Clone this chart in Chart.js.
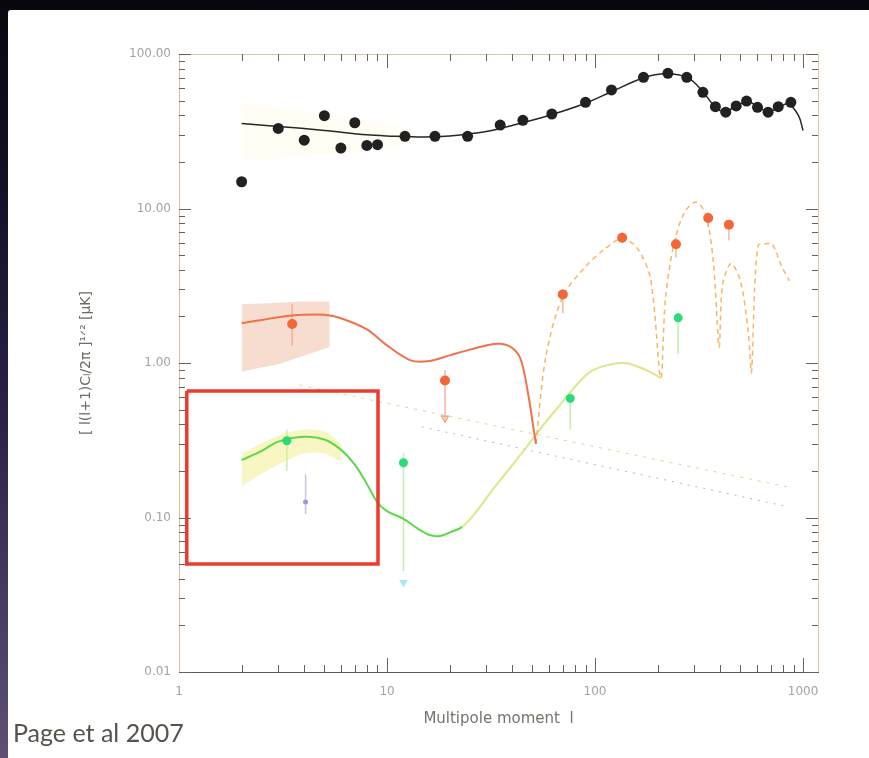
<!DOCTYPE html>
<html>
<head>
<meta charset="utf-8">
<script src="https://cdn.jsdelivr.net/npm/chart.js@4.4.1/dist/chart.umd.min.js"></script>
<style>
  html, body { margin: 0; padding: 0; }
  body {
    width: 869px; height: 758px; overflow: hidden; position: relative;
    background: linear-gradient(to bottom, #09070e 0%, #141028 25%, #2b2147 55%, #5f5073 100%);
  }
  #panel { position: absolute; left: 8px; top: 10px; right: 0; bottom: 0; background: #fff; border-top-left-radius: 3px; }
  #cv { position: absolute; left: 0; top: 0; }
  #credit { position: absolute; left: 13px; top: 717px; font: 25px Lato, "Open Sans", sans-serif; color: #58524c; }
</style>
</head>
<body>
<div id="panel"></div>
<canvas id="cv" width="869" height="758"></canvas>
<div id="credit">Page et al 2007</div>
<script>
// axis ticks
const xTicks = [1, 10, 100, 1000];
const yTicks = [0.01, 0.1, 1, 10, 100];

// TT band powers (black dots) and model
const ttL = [2, 3, 4, 5, 6, 7, 8, 9, 12.2, 17, 24.4, 35, 45, 62, 90, 120, 171, 224, 276, 330, 379, 425, 477, 535, 604, 679, 760, 874];
const ttVal = [14.9, 33, 27.7, 39.9, 24.6, 35.9, 25.6, 25.9, 29.3, 29.3, 29.3, 34.7, 37.2, 40.9, 48.7, 58.5, 70.7, 75, 70.7, 56.5, 45.6, 42, 46.1, 49.6, 45.2, 42, 45.6, 48.7];
const ttModelL = [2, 3, 5, 8, 10, 15, 20, 30, 40, 60, 90, 120, 170, 220, 280, 330, 380, 420, 480, 540, 600, 680, 760, 850, 950, 1000];
const ttModelVal = [35.5, 34, 32, 30, 29.5, 29, 29.5, 31.5, 34.5, 40, 48, 57, 70, 74.5, 70, 57, 45, 42.5, 46, 49.5, 46, 42, 45, 47.5, 40, 32];
const ttBandL = [2, 3, 5, 8, 10, 13];
const ttBandHi = [48, 45, 41, 37, 35, 33];
const ttBandLo = [20, 21, 22, 24, 25, 26];

// EE / TE (orange)
const eeL = [3.5, 19, 70, 135, 245, 350, 440];
const eeVal = [1.79, 0.77, 2.78, 6.47, 5.87, 8.68, 7.86];
const eeLo = [1.3, 0.43, 2.1, 6.0, 4.8, 7.6, 6.2];
const eeHi = [2.4, 0.9, 3.0, 7.0, 6.5, 9.5, 8.3];
const eeModelL = [2, 2.5, 3, 4, 5, 6, 8, 10, 13, 16, 20, 25, 30, 35, 40, 44, 48, 50, 52];
const eeModelVal = [1.81, 1.9, 1.98, 2.05, 2.05, 1.95, 1.65, 1.3, 1.04, 1.03, 1.12, 1.22, 1.3, 1.33, 1.25, 1.05, 0.6, 0.42, 0.3];
const eeBandL = [2, 3, 4, 5.3];
const eeBandHi = [2.4, 2.45, 2.5, 2.5];
const eeBandLo = [0.88, 0.98, 1.12, 1.27];
const teModelL = [52, 58, 70, 90, 110, 135, 160, 185, 207, 218, 240, 270, 306, 340, 370, 395, 410, 450, 500, 545, 565, 585, 610, 650, 710, 790, 860];
const teModelVal = [0.3, 1.1, 2.7, 4.2, 5.4, 6.4, 5.5, 3.5, 0.8, 2.6, 6.0, 9.5, 11.0, 9.2, 4.6, 1.27, 3.2, 4.4, 3.4, 1.6, 0.87, 3.0, 5.8, 5.9, 5.9, 4.2, 3.4];
const eeLimitL = [19];
const eeLimitVal = [0.44];

// green points and model
const grL = [3.3, 12, 76, 251];
const grVal = [0.314, 0.226, 0.59, 1.96];
const grLo = [0.2, 0.045, 0.37, 1.15];
const grHi = [0.37, 0.26, 0.65, 2.1];
const grModelL = [2, 2.5, 3, 4, 5, 6, 7, 8, 9, 10, 12, 14, 16, 18, 20, 23, 27, 32, 38, 47, 55, 65, 80, 95, 115, 138, 160, 185, 207];
const grModelVal = [0.235, 0.27, 0.31, 0.333, 0.32, 0.275, 0.22, 0.165, 0.125, 0.11, 0.098, 0.085, 0.077, 0.076, 0.08, 0.087, 0.11, 0.15, 0.2, 0.287, 0.38, 0.5, 0.7, 0.88, 0.97, 1.0, 0.95, 0.87, 0.8];
const grBandL = [2, 3, 4, 5, 6];
const grBandHi = [0.26, 0.34, 0.37, 0.36, 0.3];
const grBandLo = [0.16, 0.22, 0.26, 0.26, 0.23];

// low-l extras
const bbL = [4.06];
const bbVal = [0.126];
const bbLo = [0.105];
const bbHi = [0.19];
const cyL = [12];
const cyVal = [0.038];

// foreground lines
const fg1L = [3.8, 857];
const fg1Val = [0.72, 0.157];
const fg2L = [14.7, 857];
const fg2Val = [0.386, 0.117];

// highlighted box
const boxL = [1.09, 9.05, 9.05, 1.09, 1.09];
const boxVal = [0.66, 0.66, 0.05, 0.05, 0.66];

const pts = (xs, ys) => xs.map((x, i) => ({ x: x, y: ys[i] }));

const errorBars = {
  id: 'errorBars',
  beforeDatasetsDraw(chart) {
    const { ctx, scales: { x, y } } = chart;
    chart.data.datasets.forEach(ds => {
      if (!ds.errLo) return;
      ctx.save();
      ctx.strokeStyle = ds.errColor;
      ctx.lineWidth = 1.5;
      ds.data.forEach((p, i) => {
        const px = x.getPixelForValue(p.x);
        ctx.beginPath();
        ctx.moveTo(px, y.getPixelForValue(ds.errLo[i]));
        ctx.lineTo(px, y.getPixelForValue(ds.errHi[i]));
        ctx.stroke();
      });
      ctx.restore();
    });
  }
};

// inward ticks on all four sides, plus top/right frame
const frameTicks = {
  id: 'frameTicks',
  afterDraw(chart) {
    const { ctx, chartArea: a, scales: { x, y } } = chart;
    ctx.save();
    ctx.strokeStyle = '#d8c9a8';
    ctx.lineWidth = 1;
    ctx.beginPath();
    ctx.moveTo(a.left, a.top + 0.5); ctx.lineTo(a.right + 0.5, a.top + 0.5); ctx.lineTo(a.right + 0.5, a.bottom);
    ctx.stroke();
    ctx.strokeStyle = '#6b6256';
    for (let e = 0; e < 4; e++) {
      for (let k = 1; k < 10; k++) {
        const v = k * Math.pow(10, e);
        if (v <= 1 || v > x.max) continue;
        const px = Math.round(x.getPixelForValue(v)) + 0.5;
        const len = k === 1 ? 14 : 7;
        ctx.beginPath();
        ctx.moveTo(px, a.bottom); ctx.lineTo(px, a.bottom - len);
        ctx.moveTo(px, a.top); ctx.lineTo(px, a.top + len);
        ctx.stroke();
      }
    }
    for (let e = -2; e < 3; e++) {
      for (let k = 1; k < 10; k++) {
        const v = k * Math.pow(10, e);
        if (v > y.max * 1.0001) continue;
        const py = Math.round(y.getPixelForValue(v)) + 0.5;
        const len = k === 1 ? 12 : 6;
        ctx.beginPath();
        ctx.moveTo(a.left, py); ctx.lineTo(a.left + len, py);
        ctx.moveTo(a.right, py); ctx.lineTo(a.right - len, py);
        ctx.stroke();
      }
    }
    ctx.restore();
  }
};

const tickFont = { family: 'DejaVu Sans', size: 12 };

new Chart(document.getElementById('cv'), {
  type: 'scatter',
  data: {
    datasets: [
      { data: pts(ttL, ttVal), pointRadius: 5.5, pointBackgroundColor: '#232020', pointBorderWidth: 0 },
      { data: pts(eeL, eeVal), pointRadius: 5, pointBackgroundColor: '#f2663a', pointBorderWidth: 0,
        errLo: eeLo, errHi: eeHi, errColor: 'rgba(240,120,80,0.55)' },
      { data: pts(grL, grVal), pointRadius: 4.5, pointBackgroundColor: '#28dc78', pointBorderWidth: 0,
        errLo: grLo, errHi: grHi, errColor: 'rgba(150,220,110,0.55)' },
      { data: pts(bbL, bbVal), pointRadius: 2.5, pointBackgroundColor: '#9b9bd8', pointBorderWidth: 0,
        errLo: bbLo, errHi: bbHi, errColor: 'rgba(160,160,220,0.6)' },
      { data: pts(cyL, cyVal), pointRadius: 5, pointStyle: 'triangle', rotation: 180,
        pointBackgroundColor: '#a9e6f6', pointBorderWidth: 0 },
      { data: pts(eeLimitL, eeLimitVal), pointRadius: 4, pointStyle: 'triangle', rotation: 180,
        pointBackgroundColor: 'rgba(0,0,0,0)', pointBorderColor: 'rgba(240,130,80,0.8)', pointBorderWidth: 1.2 },
      { data: pts(boxL, boxVal), showLine: true, pointRadius: 0, borderColor: '#ec3b2b', borderWidth: 3.5 },
      { data: pts(ttModelL, ttModelVal), showLine: true, pointRadius: 0, borderColor: '#2a2622', borderWidth: 1.5, tension: 0.35 },
      { data: pts(eeModelL, eeModelVal), showLine: true, pointRadius: 0, borderColor: '#f0714a', borderWidth: 2, tension: 0.35 },
      { data: pts(teModelL, teModelVal), showLine: true, pointRadius: 0, borderColor: 'rgba(244,170,70,0.85)',
        borderWidth: 1.5, borderDash: [5, 4], tension: 0.3 },
      { data: pts(grModelL, grModelVal), showLine: true, pointRadius: 0, borderWidth: 2, tension: 0.35,
        segment: { borderColor: c => c.p0.parsed.x >= 23 ? 'rgba(200,230,110,0.8)' : '#5ed84a' } },
      { data: pts(fg1L, fg1Val), showLine: true, pointRadius: 0, borderColor: 'rgba(215,200,120,0.8)', borderWidth: 1, borderDash: [3, 6] },
      { data: pts(fg2L, fg2Val), showLine: true, pointRadius: 0, borderColor: 'rgba(150,160,215,0.8)', borderWidth: 1, borderDash: [2, 6] },
      { data: pts(ttBandL, ttBandHi), showLine: true, pointRadius: 0, borderWidth: 0, fill: '+1', backgroundColor: 'rgba(255,240,185,0.16)', tension: 0.3 },
      { data: pts(ttBandL, ttBandLo), showLine: true, pointRadius: 0, borderWidth: 0, tension: 0.3 },
      { data: pts(eeBandL, eeBandHi), showLine: true, pointRadius: 0, borderWidth: 0, fill: '+1', backgroundColor: 'rgba(235,170,135,0.4)' },
      { data: pts(eeBandL, eeBandLo), showLine: true, pointRadius: 0, borderWidth: 0 },
      { data: pts(grBandL, grBandHi), showLine: true, pointRadius: 0, borderWidth: 0, fill: '+1', backgroundColor: 'rgba(240,236,120,0.45)', tension: 0.3 },
      { data: pts(grBandL, grBandLo), showLine: true, pointRadius: 0, borderWidth: 0, tension: 0.3 }
    ]
  },
  options: {
    responsive: false,
    animation: false,
    layout: { padding: { left: 74, top: 54, right: 51, bottom: 26 } },
    plugins: { legend: { display: false }, tooltip: { enabled: false } },
    scales: {
      x: {
        type: 'logarithmic', min: 1, max: 1180,
        afterBuildTicks: s => { s.ticks = xTicks.map(v => ({ value: v })); },
        afterFit: s => { s.height = 60; },
        grid: { display: false, drawTicks: false },
        border: { display: true, color: '#5e574e', width: 1 },
        ticks: { padding: 13, color: '#a6a29c', font: tickFont, maxRotation: 0, autoSkip: false, callback: v => String(v) },
        title: { display: true, text: 'Multipole moment  l', color: '#78736c', font: { family: 'DejaVu Sans', size: 15 }, padding: { top: 4, bottom: 4 } }
      },
      y: {
        type: 'logarithmic', min: 0.01, max: 100,
        afterBuildTicks: s => { s.ticks = yTicks.map(v => ({ value: v })); },
        afterFit: s => { s.width = 105; },
        grid: { display: false, drawTicks: false },
        border: { display: true, color: '#d2c2a0', width: 1 },
        ticks: { padding: 8, color: '#a6a29c', font: tickFont, autoSkip: false, callback: v => Number(v).toFixed(2) },
        title: { display: true, text: '[ l(l+1)Cₗ/2π ]¹ᐟ² [μK]', color: '#6f6a64', font: { family: 'DejaVu Sans', size: 14 }, padding: { top: 4, bottom: 4 } }
      }
    }
  },
  plugins: [errorBars, frameTicks]
});
</script>
</body>
</html>
